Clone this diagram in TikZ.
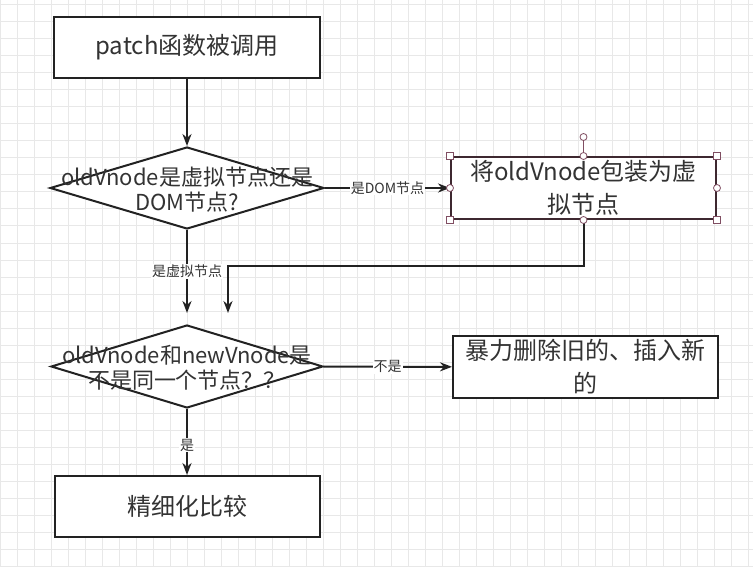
\documentclass[tikz,border=0pt]{standalone}
\usepackage{fontspec}
\setmainfont{Noto Sans CJK SC}
\usepackage{tikz}
\usetikzlibrary{shapes.geometric,arrows.meta}
\definecolor{linegray}{RGB}{34,34,34}
\definecolor{textgray}{RGB}{51,51,51}
\definecolor{gridgray}{RGB}{232,232,232}
\definecolor{selectred}{RGB}{62,40,48}
\definecolor{handlered}{RGB}{128,78,98}

\begin{document}
\begin{tikzpicture}[x=1pt, y=-1pt]
    \tikzstyle{process} = [rectangle, minimum width=266pt, minimum height=61pt, inner sep=0pt, align=center, draw=linegray, line width=2pt, fill=white, text=textgray, font=\fontsize{24}{33}\selectfont]
    \tikzstyle{decision} = [diamond, minimum width=274pt, minimum height=82pt, inner sep=0pt, draw=linegray, line width=2pt, fill=white]
    \tikzstyle{question} = [align=center, inner sep=0pt, text=textgray, font=\fontsize{22}{25}\selectfont]
    \tikzstyle{flow} = [draw=linegray, line width=2pt, -{Stealth[length=12pt,width=9pt]}]
    \tikzstyle{tag} = [fill=white, inner sep=1pt, text=textgray, font=\fontsize{14}{14}\selectfont]
    \tikzstyle{handle} = [draw=handlered, fill=white, line width=0.8pt, inner sep=0pt, minimum size=7pt]

    % Canvas with grid
    \useasboundingbox (0,0) rectangle (753,567);
    \fill [white] (0,0) rectangle (753,567);
    \foreach \x in {0,17,...,752} \draw [gridgray, line width=1pt] (\x,0) -- (\x,567);
    \foreach \y in {5,22,...,567} \draw [gridgray, line width=1pt] (0,\y) -- (753,\y);

    % Main column
    \node [process] (patch) at (187,47.5) {patch函数被调用};
    \node [decision] (isvnode) at (187,188) {};
    \node [question] (isvnodetext) at (187,190) {oldVnode是虚拟节点还是\\DOM节点?};
    \node [decision, minimum width=272pt, minimum height=83pt] (same) at (187,366.5) {};
    \node [question] (sametext) at (187,368) {oldVnode和newVnode是\\不是同一个节点？？};
    \node [process, minimum width=265pt] (refine) at (187,506.5) {精细化比较};

    % Side boxes
    \node [process, draw=selectred, minimum width=265pt, minimum height=62pt] (wrap) at (583.5,188) {将oldVnode包装为虚\\拟节点};
    \node [process, minimum width=265pt, minimum height=62pt] (replace) at (585.5,367) {暴力删除旧的、插入新\\的};

    \coordinate (join1) at (187,313);
    \coordinate (join2) at (228,313);
    \coordinate (bend) at (228,266);

    % Arrows
    \draw [flow] (patch) -- (isvnode);
    \draw [flow] (isvnode) -- node [tag] {是DOM节点} (wrap);
    \draw [flow] (isvnode) -- node [tag] {是虚拟节点} (join1);
    \draw [flow] (wrap.south) |- (bend) -- (join2);
    \draw [flow] (same) -- node [tag] {不是} (replace);
    \draw [flow] (same) -- node [tag, pos=0.55] {是} (refine);

    % Selection handles
    \node [handle, circle] (rotate) at (583.5,137) {};
    \foreach \a/\n in {north/n, south/s, east/e, west/w}
        \node [handle, circle] (h\n) at (wrap.\a) {};
    \foreach \a/\n in {north west/nw, north east/ne, south west/sw, south east/se}
        \node [handle, rectangle] (h\n) at (wrap.\a) {};
    \draw [handlered, line width=0.8pt] (rotate) -- (hn);
\end{tikzpicture}
\end{document}
